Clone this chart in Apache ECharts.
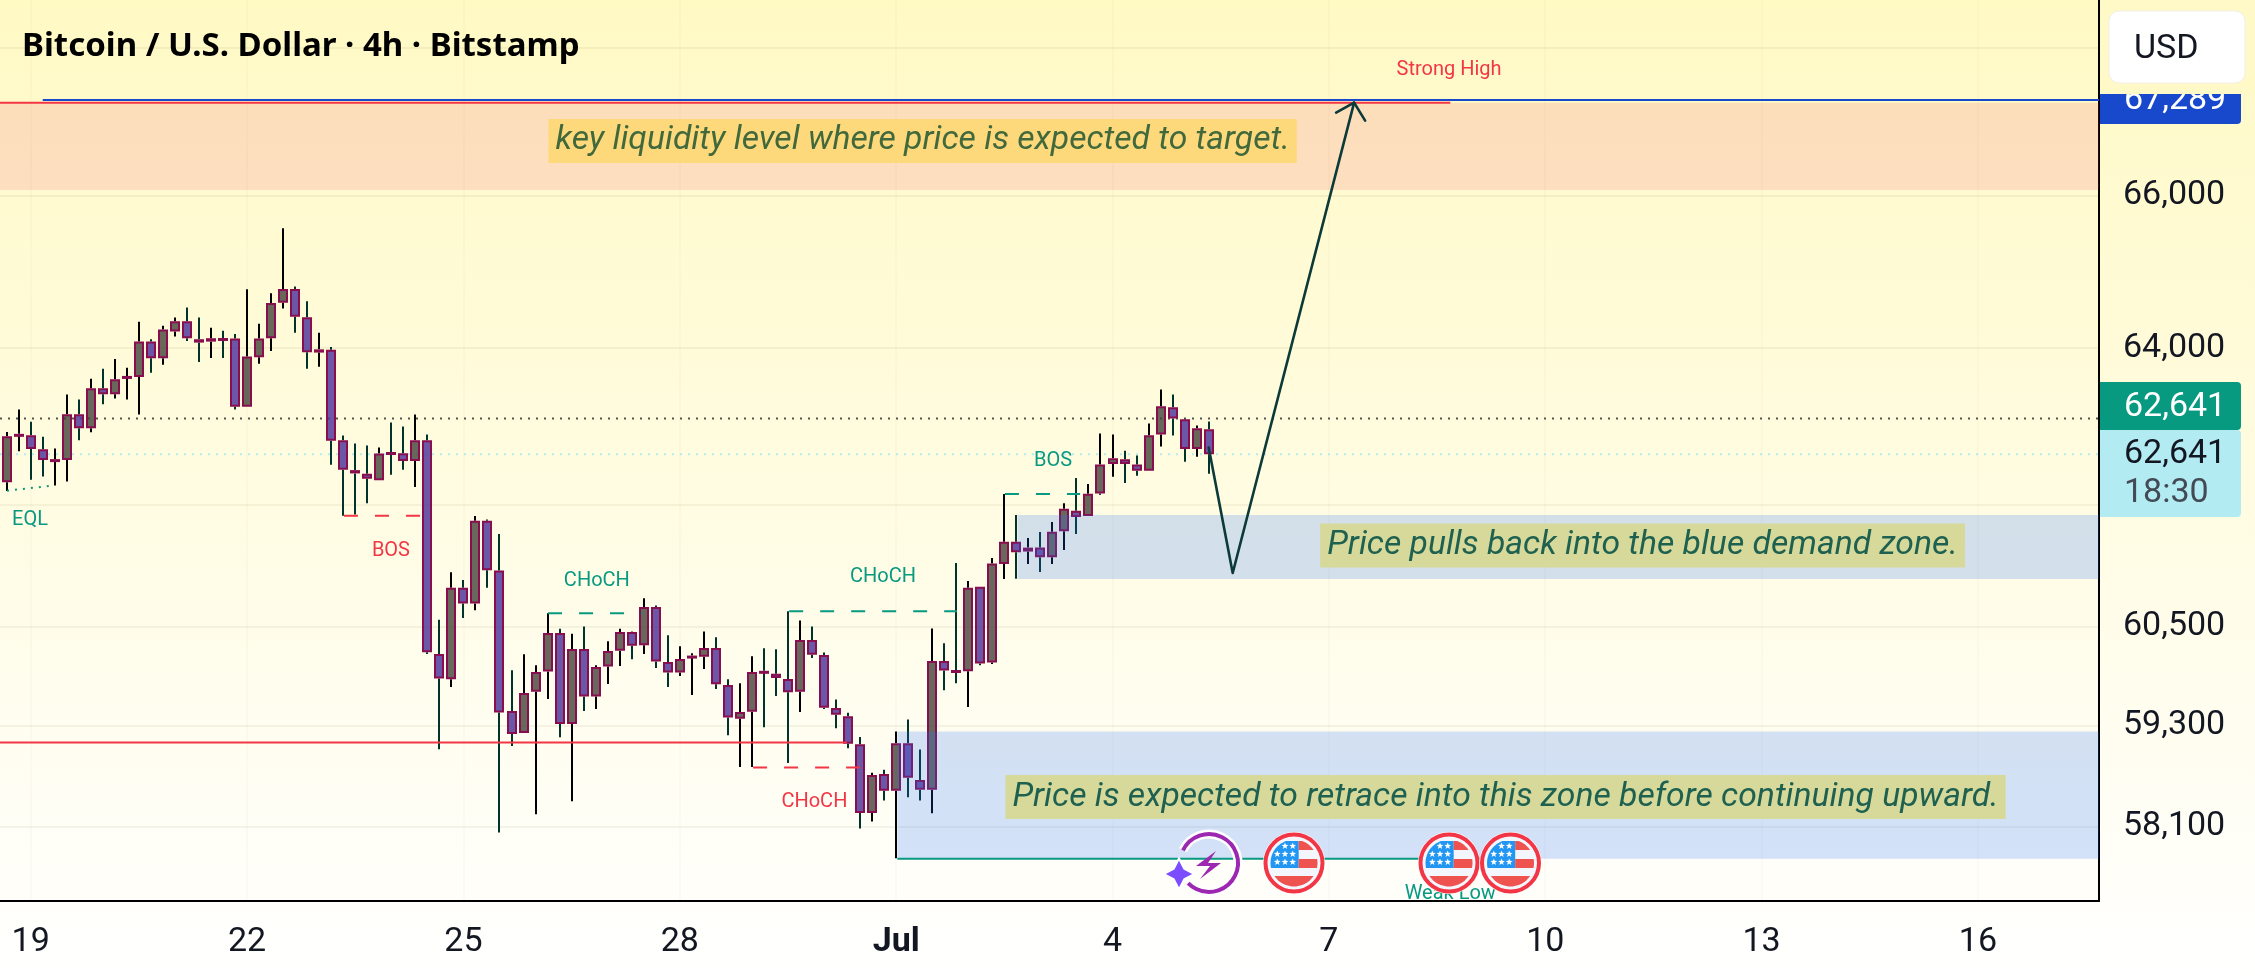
<!DOCTYPE html>
<html>
<head>
<meta charset="utf-8">
<title>Bitcoin / U.S. Dollar · 4h · Bitstamp</title>
<script src="https://cdn.jsdelivr.net/npm/echarts@6/dist/echarts.min.js"></script>
<style>
  html, body { margin: 0; padding: 0; width: 100%; height: 100%; overflow: hidden; }
  #chart { width: 2255px; height: 979px; }
</style>
</head>
<body>
<div id="chart"></div>
<script>
// 4h BTC/USD candles, oldest first. Bar 0 is the 16:00 bar of 18 June.
const opens = [62288,62880,62883,62705,62565,62569,63151,62972,63481,63405,63620,63626,64083,63868,64215,64346,64114,64083,64130,64123,63244,63881,64127,64588,64768,64399,63941,63979,62819,62441,62395,62314,62670,62654,62556,62819,60165,59858,60975,60781,61806,61186,59474,59213,59708,59951,60419,59320,60225,59651,60011,60205,60431,60270,60739,60068,59939,60135,60132,60237,59789,59381,59466,59960,59926,59862,59708,60334,60152,59510,59413,59078,58262,58722,58524,59090,58651,58536,60080,59970,59955,60988,60060,61269,61545,61422,61471,61351,61674,61930,61864,62148,62518,62577,62513,62433,62891,63240,63087,62709,62959];
const highs = [62925,63210,63053,62862,62713,63401,63337,63605,63732,63859,63745,64342,64114,64289,64395,64526,64395,64263,64224,64180,64764,64316,64711,65566,64799,64606,64198,64013,62879,62777,62752,62726,63045,62994,63146,62892,60582,61165,61070,61864,61822,61640,59967,60161,60028,60661,60472,60411,60500,60028,60318,60472,60439,60847,60756,60391,60258,60173,60439,60367,59858,59809,60137,60233,60221,60686,60574,60500,60181,59615,59453,59165,58737,58773,59229,59373,59015,60476,60294,61281,61058,60988,61343,62140,61876,61591,61665,61789,62025,62343,62267,62904,62891,62687,62624,63031,63465,63401,63091,63006,63057];
const lows = [62178,62679,62318,62361,62246,62297,62819,62921,63278,63350,63337,63146,63681,63783,64149,64092,63821,63872,63872,63210,63244,63796,63962,64513,64198,63732,63758,62509,61868,61885,62025,62314,62382,62446,62229,60165,59019,59765,60603,60698,60975,58034,59055,59213,58247,59619,59162,58401,59474,59498,59801,60019,60100,60165,59995,59765,59898,59668,59983,59740,59185,58805,58805,59280,59656,58853,59462,60116,59498,59269,59031,58080,58163,58409,57733,58449,58409,58259,59725,59809,59522,60027,60043,61083,61087,61269,61169,61269,61442,61641,61864,62131,62356,62280,62369,62433,62738,62879,62547,62611,62394];
const closes = [62870,62900,62709,62569,62580,63151,62972,63481,63405,63596,63640,64083,63868,64241,64346,64127,64070,64127,64115,63244,63890,64123,64584,64768,64404,63945,63983,62811,62446,62399,62331,62650,62660,62556,62819,60185,59866,60975,60781,61806,61190,59458,59201,59692,59947,60419,59320,60225,59651,60007,60201,60431,60265,60739,60072,59939,60104,60145,60237,59797,59397,59462,59947,59945,59874,59700,60334,60156,59514,59429,59082,58262,58710,58524,59090,58679,58536,60080,59963,59955,60975,60048,61273,61545,61413,61471,61351,61669,61955,61851,62144,62513,62590,62518,62433,62883,63252,63095,62709,62972,62641];

// Axis extents and ticks.
const barMin = -0.555, barMax = 174.07;
const priceMin = 57236, priceMax = 68661;
const dayTickBars = [2, 20, 38, 56, 74, 92, 110, 128, 146, 164];
const dayTickLabels = ['19', '22', '25', '28', 'Jul', '4', '7', '10', '13', '16'];
const priceGridTicks = [58100, 59300, 60500, 62000, 64000, 66000, 68000];
const priceLabelTicks = [58100, 59300, 60500, 64000, 66000];

// Price levels.
const lastClose = 62641;
const previousClose = 63095;
const blueLevel = 67289;
const redLevel = 67252;
const swingLevel = 59098;
const weakLow = 57726;

// Shaded zones: first bar, last bar, upper price, lower price.
const supplyZone = [barMin, barMax, 67252, 66076];
const demandZone = [84.1, barMax, 61876, 61082];
const retraceZone = [74.1, barMax, 59229, 57726];

// Structure lines: from bar, to bar, start price, end price.
const eqlSegment = [0.03, 3.6, 62182, 62242];
const bosRedSegment = [28.06, 34.9, 61867, 61867];
const chochGreenSegment = [45.04, 52.9, 60661, 60661];
const chochGreenSegment2 = [65.1, 79.06, 60686, 60686];
const chochRedSegment = [62.1, 71, 58801, 58801];
const bosGreenSegment = [83.05, 89.3, 62140, 62140];

// Small structure labels: text, bar, price.
const tealLabels = [['EQL', 1.94, 61839], ['CHoCH', 49.1, 61082], ['CHoCH', 72.9, 61132], ['BOS', 87.05, 62586], ['Weak Low', 120.1, 57340]];
const redLabels = [['BOS', 31.97, 61454], ['CHoCH', 67.2, 58421], ['Strong High', 120, 67724]];

// Projected path of price: bar, price.
const projectionBars = [100, 102, 112.1];
const projectionPrices = [62726, 61157, 67252];

// Commentary boxes: text, bar, price.
const noteKey = ['key liquidity level where price is expected to target.', 76.2, 66746];
const notePull = ['Price pulls back into the blue demand zone.', 136.1, 61510];
const noteRetrace = ['Price is expected to retrace into this zone before continuing upward.', 124.7, 58462];

const TEAL = '#089981', RED = '#f23645', INK = '#131722';
const AXIS_FONT = '34px Roboto';

const chart = echarts.init(document.getElementById('chart'), null, { renderer: 'canvas' });

// Wraps a drawing function as a custom series over a list of rows.
function overlay(name, rows, z, draw) {
  return {
    type: 'custom', name, silent: true, clip: false, z,
    data: rows.map((_, i) => [i]),
    renderItem: (params, api) => draw(rows[params.dataIndex], api)
  };
}

function candleItem(params, api) {
  const bar = api.value(0), o = api.value(1), h = api.value(2), l = api.value(3), c = api.value(4);
  const up = c >= o;
  const x = Math.round(api.coord([bar, o])[0]);
  const yo = api.coord([bar, o])[1], yc = api.coord([bar, c])[1];
  const yh = api.coord([bar, h])[1], yl = api.coord([bar, l])[1];
  const top = Math.min(yo, yc), bottom = Math.max(yo, yc);
  const wick = up ? '#000000' : '#00332b';
  const innerTop = top + 1;
  const innerH = Math.max(bottom - top - 2, 1);
  return {
    type: 'group',
    children: [
      { type: 'rect', shape: { x: x - 1, y: yh, width: 2, height: Math.max(top - yh, 0) }, style: { fill: wick } },
      { type: 'rect', shape: { x: x - 1, y: bottom, width: 2, height: Math.max(yl - bottom, 0) }, style: { fill: wick } },
      {
        type: 'rect',
        shape: { x: x - 4, y: innerTop, width: 8, height: innerH },
        style: {
          fill: up ? 'rgba(66,66,56,0.8)' : 'rgba(81,58,155,0.85)',
          stroke: '#880e4f', lineWidth: 2
        }
      }
    ]
  };
}

function zoneItem(zone, fill, api) {
  const a = api.coord([zone[0], zone[2]]), b = api.coord([zone[1], zone[3]]);
  return { type: 'rect', shape: { x: a[0], y: a[1], width: b[0] - a[0], height: b[1] - a[1] }, style: { fill } };
}

function segmentItem(seg, color, width, dash, api) {
  const a = api.coord([seg[0], seg[2]]), b = api.coord([seg[1], seg[3]]);
  return {
    type: 'line',
    shape: { x1: a[0], y1: a[1], x2: b[0], y2: b[1] },
    style: { stroke: color, lineWidth: width, lineDash: dash || null }
  };
}

function labelItem(row, color, api) {
  const p = api.coord([row[1], row[2]]);
  return { type: 'text', x: p[0], y: p[1] + 2, style: { text: row[0], fill: color, font: '20px Roboto', align: 'center', verticalAlign: 'middle' } };
}

function noteItem(row, color, background, api) {
  const p = api.coord([row[1], row[2]]);
  return {
    type: 'text', x: p[0], y: p[1] + 1,
    style: {
      text: row[0], fill: color, font: 'italic 33.7px Roboto', align: 'center', verticalAlign: 'middle',
      backgroundColor: background, padding: [5, 7, 5, 7]
    }
  };
}

// Arrow drawn through the projected bars, with its head at the last point.
function projectionItem(params, api) {
  const pts = projectionBars.map((b, i) => api.coord([b, projectionPrices[i]]));
  const tip = pts[pts.length - 1];
  const stroke = { stroke: '#0b3a39', lineWidth: 2.6, lineCap: 'round', lineJoin: 'round', fill: 'none' };
  return {
    type: 'group',
    children: [
      { type: 'polyline', shape: { points: pts }, style: stroke },
      { type: 'polyline', shape: { points: [[tip[0] - 18, tip[1] + 10], tip, [tip[0] + 11, tip[1] + 18]] }, style: stroke }
    ]
  };
}

// Clips an axis-aligned rectangle to a disc, centred on (0,0), as a polygon.
function discBand(r, x0, x1, y0, y1) {
  const left = [], right = [];
  const n = 10;
  for (let k = 0; k <= n; k++) {
    const y = y0 + (y1 - y0) * k / n;
    const half = Math.sqrt(Math.max(r * r - y * y, 0));
    right.push([Math.min(x1, half), y]);
    left.unshift([Math.max(x0, -half), y]);
  }
  return right.concat(left);
}

function starPoints(cx, cy, r) {
  const pts = [];
  for (let k = 0; k < 10; k++) {
    const a = -Math.PI / 2 + k * Math.PI / 5;
    const q = k % 2 ? r * 0.42 : r;
    pts.push([cx + q * Math.cos(a), cy + q * Math.sin(a)]);
  }
  return pts;
}

function flagIcon(cx, cy) {
  const red = '#ef5350', blue = '#2196f3', rInner = 23.5;
  const stars = [[-9, -17], [-1.3, -17], [-16.7, -9], [-9, -9], [-1.3, -9], [-16.7, -1], [-9, -1], [-1.3, -1]];
  return {
    type: 'group', x: cx, y: cy, z: 100,
    children: [
      { type: 'circle', z: 100, shape: { r: 31 }, style: { fill: '#ffffff' } },
      { type: 'circle', z: 100, shape: { r: 28.5 }, style: { fill: '#f4f6fd', stroke: RED, lineWidth: 4 } },
      { type: 'polygon', z: 100, shape: { points: discBand(rInner, -24, 4.7, -22, 5) }, style: { fill: blue } },
      { type: 'polygon', z: 100, shape: { points: discBand(rInner, 4.7, 24, -22, -13) }, style: { fill: red } },
      { type: 'polygon', z: 100, shape: { points: discBand(rInner, 4.7, 24, -4, 5) }, style: { fill: red } },
      { type: 'polygon', z: 100, shape: { points: discBand(rInner, -24, 24, 13, 23.4) }, style: { fill: red } }
    ].concat(stars.map(s => ({ type: 'polygon', z: 100, shape: { points: starPoints(s[0], s[1], 3.6) }, style: { fill: '#ffffff' } })))
  };
}

function boltIcon(cx, cy) {
  const start = 206 * Math.PI / 180, end = (360 + 136) * Math.PI / 180;
  const sparkle = [];
  for (let k = 0; k < 8; k++) {
    const a = k * Math.PI / 4;
    const q = k % 2 ? 7.5 : 15.5;
    sparkle.push([-30 + q * Math.cos(a), 11 + q * Math.sin(a)]);
  }
  return {
    type: 'group', x: cx, y: cy, z: 100,
    children: [
      { type: 'arc', z: 100, shape: { cx: 0, cy: 0, r: 29, startAngle: start, endAngle: end, clockwise: true }, style: { stroke: '#ffffff', lineWidth: 9, fill: 'none' } },
      { type: 'arc', z: 100, shape: { cx: 0, cy: 0, r: 29, startAngle: start, endAngle: end, clockwise: true }, style: { stroke: '#9c27b0', lineWidth: 4, fill: 'none' } },
      { type: 'polygon', z: 100, shape: { points: [[7, -12], [-13, 3], [1, 3], [-9, 16], [12, 0], [-1, 0]] }, style: { fill: '#9c27b0' } },
      { type: 'polygon', z: 100, shape: { points: sparkle }, style: { fill: '#7c4dff', stroke: '#ffffff', lineWidth: 2 } }
    ]
  };
}

function tag(y, height, fill) {
  return { type: 'rect', z: 90, shape: { x: 2100, y, width: 141, height, r: [0, 4, 4, 0] }, style: { fill } };
}

function tagText(text, y, fill) {
  return { type: 'text', z: 91, x: 2124, y, style: { text, fill, font: AXIS_FONT, verticalAlign: 'middle' } };
}

const candleRows = opens.map((o, i) => [i, o, highs[i], lows[i], closes[i]]);

const option = {
  animation: false,
  backgroundColor: {
    type: 'linear', x: 0, y: 0, x2: 0, y2: 1,
    colorStops: [{ offset: 0, color: '#fff9c4' }, { offset: 1, color: '#ffffff' }]
  },
  title: {
    text: 'Bitcoin / U.S. Dollar · 4h · Bitstamp',
    left: 22, top: 30, padding: 0,
    textStyle: { fontFamily: '"Noto Sans"', fontWeight: 700, fontSize: 33, color: '#000000' }
  },
  grid: { left: 0, top: 0, right: 156, bottom: 78 },
  xAxis: {
    type: 'value', min: barMin, max: barMax,
    axisLine: { onZero: false, lineStyle: { color: '#000000', width: 2 } },
    axisTick: { show: false, customValues: dayTickBars },
    splitLine: { show: true, lineStyle: { color: 'rgba(60,60,0,0.018)', width: 2 } },
    axisLabel: {
      customValues: dayTickBars, margin: 24, color: INK, fontFamily: 'Roboto', fontSize: 34,
      formatter: v => {
        const label = dayTickLabels[dayTickBars.indexOf(Math.round(v))];
        return label === 'Jul' ? '{month|Jul}' : label;
      },
      rich: { month: { fontFamily: 'Roboto', fontSize: 34, fontWeight: 700, color: INK } }
    }
  },
  yAxis: {
    type: 'log', position: 'right', min: priceMin, max: priceMax,
    axisLine: { show: true, onZero: false, lineStyle: { color: '#000000', width: 2 } },
    axisTick: { show: false, customValues: priceGridTicks },
    splitLine: { show: true, lineStyle: { color: 'rgba(60,60,0,0.06)', width: 2 } },
    axisLabel: {
      customValues: priceLabelTicks, margin: 24, color: INK, fontFamily: 'Roboto', fontSize: 34,
      formatter: v => Math.round(v).toLocaleString('en-US')
    }
  },
  series: [
    overlay('reference levels', [
      [[barMin, barMax, previousClose, previousClose], '#555555', 2, [2, 6]],
      [[barMin, barMax, lastClose, lastClose], '#b2ebf2', 2, [2, 6]]
    ], 1, (r, api) => segmentItem(r[0], r[1], r[2], r[3], api)),
    {
      type: 'custom', name: 'BTCUSD', silent: true, z: 3,
      encode: { x: 0, y: [1, 2, 3, 4] },
      data: candleRows, renderItem: candleItem
    },
    overlay('zones', [
      [supplyZone, 'rgba(241,70,99,0.15)'],
      [demandZone, 'rgba(33,110,255,0.2)'],
      [retraceZone, 'rgba(33,110,255,0.2)']
    ], 4, (r, api) => zoneItem(r[0], r[1], api)),
    overlay('structure', [
      [[3, barMax, blueLevel, blueLevel], '#1848cc', 2, null],
      [[barMin, 120.1, redLevel, redLevel], RED, 2, null],
      [[barMin, 69.9, swingLevel, swingLevel], RED, 2, null],
      [[74.1, 123.4, weakLow, weakLow], TEAL, 2, null],
      [eqlSegment, TEAL, 2, [2, 6]],
      [bosRedSegment, RED, 2, [14, 17]],
      [chochGreenSegment, TEAL, 2, [14, 17]],
      [chochGreenSegment2, TEAL, 2, [14, 17]],
      [chochRedSegment, RED, 2, [14, 17]],
      [bosGreenSegment, TEAL, 2, [14, 17]]
    ], 5, (r, api) => segmentItem(r[0], r[1], r[2], r[3], api)),
    overlay('structure labels', tealLabels.map(r => [r, TEAL]).concat(redLabels.map(r => [r, RED])), 6,
      (r, api) => labelItem(r[0], r[1], api)),
    overlay('notes', [
      [noteKey, '#41693b', '#fdd97c'],
      [notePull, '#1f6150', '#d6d99a'],
      [noteRetrace, '#1f6150', '#d6d99a']
    ], 6, (r, api) => noteItem(r[0], r[1], r[2], api)),
    overlay('projection', [0], 7, (r, api) => projectionItem(null, api))
  ],
  graphic: {
    elements: [
      tag(77, 47, '#1848cc'), tagText('67,289', 100, '#ffffff'),
      { type: 'rect', z: 92, shape: { x: 2100, y: 0, width: 155, height: 94 }, style: { fill: '#fff9c7' } },
      { type: 'rect', z: 93, shape: { x: 2109, y: 11, width: 136, height: 72, r: 10 }, style: { fill: '#ffffff', stroke: '#f1efe6', lineWidth: 1 } },
      { type: 'text', z: 94, x: 2134, y: 49, style: { text: 'USD', fill: INK, font: AXIS_FONT, verticalAlign: 'middle' } },
      tag(382, 48, '#089981'), tagText('62,641', 407, '#ffffff'),
      tag(430, 87, '#b2ebf2'), tagText('62,641', 454, INK), tagText('18:30', 493, '#434a55'),
      boltIcon(1209, 863), flagIcon(1294, 863), flagIcon(1449, 863), flagIcon(1510.5, 863)
    ]
  }
};

chart.setOption(option);
</script>
</body>
</html>
